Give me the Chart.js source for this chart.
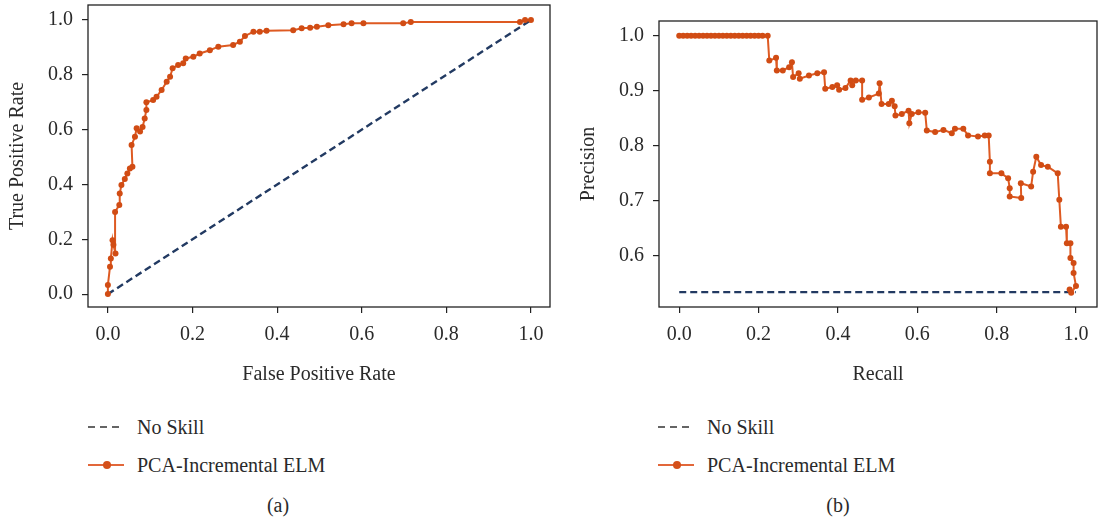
<!DOCTYPE html>
<html>
<head>
<meta charset="utf-8">
<script src="https://cdn.jsdelivr.net/npm/chart.js@4.4.1/dist/chart.umd.min.js"></script>
<style>
  body { margin: 0; background: #fff; width: 1101px; height: 517px; position: relative; overflow: hidden;
         font-family: "Liberation Serif", "DejaVu Serif", serif; color: #2a2a2a; }
  canvas { position: absolute; top: 0; }
  #rocCanvas { left: 0; }
  #prCanvas { left: 570px; }
  .leg { position: absolute; height: 24px; line-height: 24px; font-size: 20px; white-space: nowrap; }
  .leg svg { position: absolute; left: 0; top: 0; }
  .leg span { position: absolute; left: 49px; top: 0; }
  .cap { position: absolute; font-size: 20px; line-height: 24px; transform: translateX(-50%); }
</style>
</head>
<body>
<canvas id="rocCanvas" width="560" height="395"></canvas>
<canvas id="prCanvas" width="531" height="395"></canvas>

<div class="leg" style="left:88px; top:415px;">
  <svg width="36" height="24"><line x1="0" y1="12" x2="36" y2="12" stroke="#333" stroke-width="1.6" stroke-dasharray="7,5"/></svg>
  <span>No Skill</span>
</div>
<div class="leg" style="left:88px; top:453px;">
  <svg width="36" height="24"><line x1="0" y1="12" x2="36" y2="12" stroke="#e2673a" stroke-width="1.8"/><circle cx="19" cy="12" r="4" fill="#d4501a"/></svg>
  <span>PCA-Incremental ELM</span>
</div>
<div class="cap" style="left:278px; top:493px;">(a)</div>

<div class="leg" style="left:658px; top:415px;">
  <svg width="36" height="24"><line x1="0" y1="12" x2="36" y2="12" stroke="#333" stroke-width="1.6" stroke-dasharray="7,5"/></svg>
  <span>No Skill</span>
</div>
<div class="leg" style="left:658px; top:453px;">
  <svg width="36" height="24"><line x1="0" y1="12" x2="36" y2="12" stroke="#e2673a" stroke-width="1.8"/><circle cx="19" cy="12" r="4" fill="#d4501a"/></svg>
  <span>PCA-Incremental ELM</span>
</div>
<div class="cap" style="left:838px; top:493px;">(b)</div>

<script>
// (a) ROC curve
const rocFpr = [0, 0, 0.005, 0.007, 0.011, 0.013, 0.018, 0.017, 0.027, 0.028, 0.032, 0.040, 0.046, 0.052, 0.058, 0.056,
  0.064, 0.068, 0.076, 0.082, 0.087, 0.091, 0.091, 0.107, 0.115, 0.127, 0.139, 0.147, 0.153, 0.166, 0.178, 0.184,
  0.202, 0.217, 0.241, 0.261, 0.296, 0.312, 0.324, 0.344, 0.359, 0.375, 0.438, 0.458, 0.478, 0.494, 0.521, 0.557,
  0.576, 0.604, 0.698, 0.716, 0.974, 0.986, 1.0];
const rocTpr = [0, 0.033, 0.10, 0.13, 0.197, 0.18, 0.148, 0.30, 0.325, 0.367, 0.398, 0.42, 0.44, 0.458, 0.465, 0.544,
  0.574, 0.605, 0.593, 0.61, 0.641, 0.672, 0.70, 0.708, 0.72, 0.745, 0.775, 0.793, 0.824, 0.836, 0.842, 0.86,
  0.866, 0.878, 0.89, 0.903, 0.909, 0.921, 0.942, 0.957, 0.957, 0.961, 0.963, 0.970, 0.972, 0.976, 0.981, 0.985,
  0.988, 0.988, 0.988, 0.993, 0.993, 1.0, 1.0];
const rocSkillX = [0, 1];
const rocSkillY = [0, 1];

// (b) precision-recall curve
const prRecall = [0, 0.01, 0.02, 0.03, 0.04, 0.05, 0.06, 0.07, 0.08, 0.09, 0.10, 0.11, 0.12, 0.13, 0.14, 0.15,
  0.16, 0.17, 0.18, 0.19, 0.20, 0.21, 0.223,
  0.227, 0.244, 0.246, 0.261, 0.277, 0.284, 0.287, 0.301, 0.304, 0.327, 0.348, 0.365, 0.368, 0.386, 0.398, 0.403,
  0.419, 0.432, 0.436, 0.445, 0.461, 0.461, 0.478, 0.503, 0.505, 0.510, 0.528, 0.536, 0.543, 0.545, 0.561, 0.578,
  0.580, 0.586, 0.603, 0.620, 0.624, 0.645, 0.666, 0.687, 0.695, 0.716, 0.728, 0.753, 0.770, 0.780, 0.783, 0.783,
  0.812, 0.829, 0.833, 0.833, 0.862, 0.861, 0.887, 0.892, 0.900, 0.912, 0.929, 0.954, 0.958, 0.962, 0.975, 0.977,
  0.986, 0.986, 0.994, 0.994, 1.0, 0.988, 0.984];
const prPrecision = [1, 1, 1, 1, 1, 1, 1, 1, 1, 1, 1, 1, 1, 1, 1, 1,
  1, 1, 1, 1, 1, 1, 1,
  0.955, 0.960, 0.937, 0.937, 0.943, 0.952, 0.925, 0.932, 0.922, 0.928, 0.932, 0.934, 0.904, 0.907, 0.910, 0.902,
  0.905, 0.919, 0.910, 0.919, 0.919, 0.884, 0.888, 0.895, 0.914, 0.876, 0.876, 0.882, 0.872, 0.855, 0.858, 0.864,
  0.841, 0.858, 0.861, 0.860, 0.828, 0.825, 0.829, 0.823, 0.831, 0.831, 0.819, 0.817, 0.819, 0.819, 0.771, 0.750,
  0.750, 0.741, 0.723, 0.708, 0.705, 0.732, 0.726, 0.753, 0.780, 0.765, 0.762, 0.750, 0.702, 0.653, 0.653, 0.623,
  0.623, 0.596, 0.587, 0.569, 0.545, 0.533, 0.539];
const prSkillX = [0, 1];
const prSkillY = [0.534, 0.534];

const tickVals01 = [0, 0.2, 0.4, 0.6, 0.8, 1.0];
const prYTicks = [0.6, 0.7, 0.8, 0.9, 1.0];

const textColor = "#2a2a2a";
const fontSerif = { family: "'Liberation Serif', 'DejaVu Serif', serif", size: 20 };
const lineOrange = "#de5a22";
const dotOrange = "#d14c14";
const navy = "#223a62";

function pts(xs, ys) {
  return xs.map((x, i) => ({ x: x, y: ys[i] }));
}

const framePlugin = {
  id: "frame",
  afterDatasetsDraw(chart) {
    const a = chart.chartArea;
    const ctx = chart.ctx;
    ctx.save();
    ctx.strokeStyle = "#222";
    ctx.lineWidth = 1.3;
    ctx.strokeRect(a.left, a.top, a.right - a.left, a.bottom - a.top);
    ctx.restore();
  },
};

function axis(opts) {
  return {
    type: "linear",
    min: opts.min,
    max: opts.max,
    afterBuildTicks: (scale) => {
      scale.ticks = opts.ticks.map((v) => ({ value: v }));
    },
    afterFit: (scale) => {
      if (opts.width) scale.width = opts.width;
      if (opts.height) scale.height = opts.height;
      // the plot box is placed by the layout padding alone
      scale.paddingTop = 0;
      scale.paddingBottom = 0;
      scale.paddingLeft = 0;
      scale.paddingRight = 0;
    },
    border: { display: false },
    grid: { drawOnChartArea: false, drawTicks: true, tickLength: 6, color: "#222", lineWidth: 1.2 },
    ticks: {
      color: textColor,
      font: fontSerif,
      padding: opts.tpad,
      maxRotation: 0,
      callback: (v) => Number(v).toFixed(1),
    },
    title: {
      display: true,
      text: opts.title,
      color: textColor,
      font: fontSerif,
      padding: opts.titlePad,
    },
  };
}

function makeChart(id, curve, skill, xOpts, yOpts, pad) {
  return new Chart(document.getElementById(id), {
    type: "scatter",
    data: {
      datasets: [
        {
          label: "PCA-Incremental ELM",
          data: curve,
          showLine: true,
          borderColor: lineOrange,
          borderWidth: 2,
          pointRadius: 3,
          pointBackgroundColor: dotOrange,
          pointBorderColor: dotOrange,
          pointBorderWidth: 0,
          order: 0,
        },
        {
          label: "No Skill",
          data: skill,
          showLine: true,
          borderColor: navy,
          borderWidth: 2.4,
          borderDash: [7, 4],
          pointRadius: 0,
          order: 1,
        },
      ],
    },
    options: {
      responsive: false,
      animation: false,
      devicePixelRatio: 1,
      layout: { padding: pad },
      plugins: { legend: { display: false }, tooltip: { enabled: false } },
      scales: { x: axis(xOpts), y: axis(yOpts) },
    },
    plugins: [framePlugin],
  });
}

makeChart(
  "rocCanvas",
  pts(rocFpr, rocTpr),
  pts(rocSkillX, rocSkillY),
  { min: -0.047, max: 1.045, ticks: tickVals01, height: 88, tpad: 10, title: "False Positive Rate", titlePad: { top: 0, bottom: 8 } },
  { min: -0.047, max: 1.055, ticks: tickVals01, width: 88, tpad: 9, title: "True Positive Rate", titlePad: { top: 6, bottom: 0 } },
  { top: 5, right: 10, left: 0, bottom: 0 }
);

makeChart(
  "prCanvas",
  pts(prRecall, prPrecision),
  pts(prSkillX, prSkillY),
  { min: -0.051, max: 1.053, ticks: tickVals01, height: 88, tpad: 10, title: "Recall", titlePad: { top: 0, bottom: 8 } },
  { min: 0.507, max: 1.027, ticks: prYTicks, width: 89, tpad: 9, title: "Precision", titlePad: { top: 7, bottom: 0 } },
  { top: 21, right: 2, left: 0, bottom: 0 }
);
</script>
</body>
</html>
